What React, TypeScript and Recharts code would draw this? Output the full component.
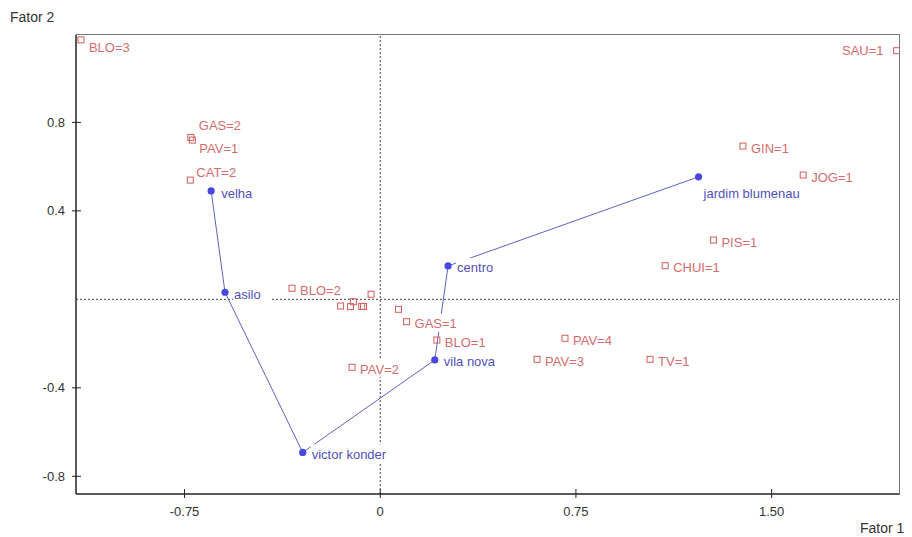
import React from "react"
import {
  ScatterChart,
  Scatter,
  XAxis,
  YAxis,
  ReferenceLine,
} from "recharts"

// Category points (red squares)
const CAT_NAMES = ["BLO=3", "GAS=2", "PAV=1", "CAT=2", "BLO=2", "", "", "", "", "", "", "", "GAS=1", "BLO=1", "PAV=2", "PAV=4", "PAV=3", "TV=1", "CHUI=1", "PIS=1", "GIN=1", "JOG=1", "SAU=1"]
const CAT_X = [-1.147, -0.726, -0.72, -0.728, -0.338, -0.035, -0.103, -0.152, -0.114, -0.071, -0.064, 0.07, 0.101, 0.217, -0.108, 0.708, 0.601, 1.034, 1.092, 1.277, 1.39, 1.621, 1.979]
const CAT_Y = [1.173, 0.732, 0.72, 0.539, 0.05, 0.023, -0.011, -0.03, -0.033, -0.032, -0.032, -0.045, -0.101, -0.184, -0.307, -0.176, -0.271, -0.271, 0.152, 0.268, 0.693, 0.562, 1.124]

// Neighbourhoods (blue path, in drawing order)
const SITE_NAMES = ["velha", "asilo", "victor konder", "vila nova", "centro", "jardim blumenau"]
const SITE_X = [-0.648, -0.595, -0.297, 0.209, 0.26, 1.22]
const SITE_Y = [0.49, 0.032, -0.692, -0.274, 0.151, 0.554]

const X_TICKS = [-0.75, 0, 0.75, 1.5]
const X_TICK_LABELS = ["-0.75", "0", "0.75", "1.50"]
const Y_TICKS = [-0.8, -0.4, 0.4, 0.8]
const Y_TICK_LABELS = ["-0.8", "-0.4", "0.4", "0.8"]

const X_DOMAIN = [-1.166, 1.992]
const Y_DOMAIN = [-0.88, 1.195]

const RED = "#d45c5c"
const RED_TEXT = "#d46c6c"
const BLUE = "#4848e0"
const BLUE_LINE = "#6060c8"
const BLUE_TEXT = "#5050b8"
const FONT = "'Liberation Sans', Arial, sans-serif"

// label placement relative to the marker: [dx, dy, anchor]
const LABEL_OFFSETS: Record<string, [number, number, string]> = {
  "BLO=3": [8, 8, "start"],
  "GAS=2": [8, -12, "start"],
  "PAV=1": [7, 8, "start"],
  "CAT=2": [6, -8, "start"],
  "SAU=1": [-13, 0, "end"],
  "velha": [10, 3, "start"],
  "jardim blumenau": [5, 17, "start"],
}

const catData = CAT_NAMES.map((name, i) => ({ name, x: CAT_X[i], y: CAT_Y[i] }))
const siteData = SITE_NAMES.map((name, i) => ({ name, x: SITE_X[i], y: SITE_Y[i] }))

const Square = (props: any) => {
  const { cx, cy } = props
  return <rect x={cx - 3} y={cy - 3} width={6} height={6} fill="none" stroke={RED} strokeWidth={1} />
}

const Dot = (props: any) => {
  const { cx, cy } = props
  return <circle cx={cx} cy={cy} r={3.6} fill={BLUE} />
}

const makeLabel = (color: string, dxDefault: number) => (props: any) => {
  const { cx, cy, payload } = props
  const name: string = payload?.name ?? ""
  if (!name) return <g />
  const [dx, dy, anchor] = LABEL_OFFSETS[name] ?? [dxDefault, 2, "start"]
  const w = name.length * 7 + 2
  const tx = cx + dx
  const ty = cy + dy
  const rx = anchor === "end" ? tx - w : tx - 1
  return (
    <g>
      <rect x={rx} y={ty - 10} width={w} height={18} fill="#fff" />
      <text x={tx} y={ty + 4.5} textAnchor={anchor as any} fontSize={13} fontFamily={FONT} fill={color}>
        {name}
      </text>
    </g>
  )
}

const CatLabel = makeLabel(RED_TEXT, 8)
const SiteLabel = makeLabel(BLUE_TEXT, 9)

const XTick = (props: any) => {
  const { x, y, payload } = props
  const i = X_TICKS.indexOf(payload.value)
  return (
    <g>
      <line x1={x} x2={x} y1={y - 5} y2={y + 4} stroke="#222" />
      <text x={x} y={y + 22} textAnchor="middle" fontSize={13} fontFamily={FONT} fill="#333">
        {X_TICK_LABELS[i]}
      </text>
    </g>
  )
}

const YTick = (props: any) => {
  const { x, y, payload } = props
  const i = Y_TICKS.indexOf(payload.value)
  return (
    <g>
      <line x1={x - 4} x2={x + 5} y1={y} y2={y} stroke="#222" />
      <text x={x - 11} y={y + 4.5} textAnchor="end" fontSize={13} fontFamily={FONT} fill="#333">
        {Y_TICK_LABELS[i]}
      </text>
    </g>
  )
}

export default function App() {
  return (
    <div style={{ position: "absolute", left: 0, top: 0, width: 912, height: 537, background: "#fff", fontFamily: FONT }}>
      <div style={{ position: "absolute", left: 10, top: 10, fontSize: 14, lineHeight: "14px", color: "#333" }}>Fator 2</div>
      <div style={{ position: "absolute", left: 860, top: 521, fontSize: 14, lineHeight: "14px", color: "#333" }}>Fator 1</div>
      <ScatterChart width={912} height={537} margin={{ top: 35, right: 12, bottom: 13, left: 30 }}>
        <XAxis
          type="number"
          dataKey="x"
          domain={X_DOMAIN}
          allowDataOverflow
          ticks={X_TICKS}
          interval={0}
          tickSize={0}
          tickMargin={0}
          tick={<XTick />}
          height={30}
          axisLine={{ stroke: "#222", strokeWidth: 1.5 }}
        />
        <YAxis
          type="number"
          dataKey="y"
          domain={Y_DOMAIN}
          allowDataOverflow
          ticks={Y_TICKS}
          interval={0}
          tickSize={0}
          tickMargin={0}
          tick={<YTick />}
          width={46}
          axisLine={{ stroke: "#222", strokeWidth: 1.5 }}
        />
        <ReferenceLine y={0} stroke="#444" strokeDasharray="2 2" />
        <ReferenceLine x={0} stroke="#444" strokeDasharray="2 2" />
        <Scatter
          data={siteData}
          line={{ stroke: BLUE_LINE, strokeWidth: 1 }}
          lineType="joint"
          shape={<Dot />}
          isAnimationActive={false}
        />
        <Scatter data={catData} shape={<Square />} isAnimationActive={false} />
        <Scatter data={siteData} shape={SiteLabel} isAnimationActive={false} />
        <Scatter data={catData} shape={CatLabel} isAnimationActive={false} />
      </ScatterChart>
      {/* top and right edges of the plot frame */}
      <div
        style={{
          position: "absolute",
          left: 76,
          top: 34,
          width: 824,
          height: 460,
          boxSizing: "border-box",
          borderTop: "1.5px solid #777",
          borderRight: "1.5px solid #777",
          pointerEvents: "none",
        }}
      />
    </div>
  )
}
